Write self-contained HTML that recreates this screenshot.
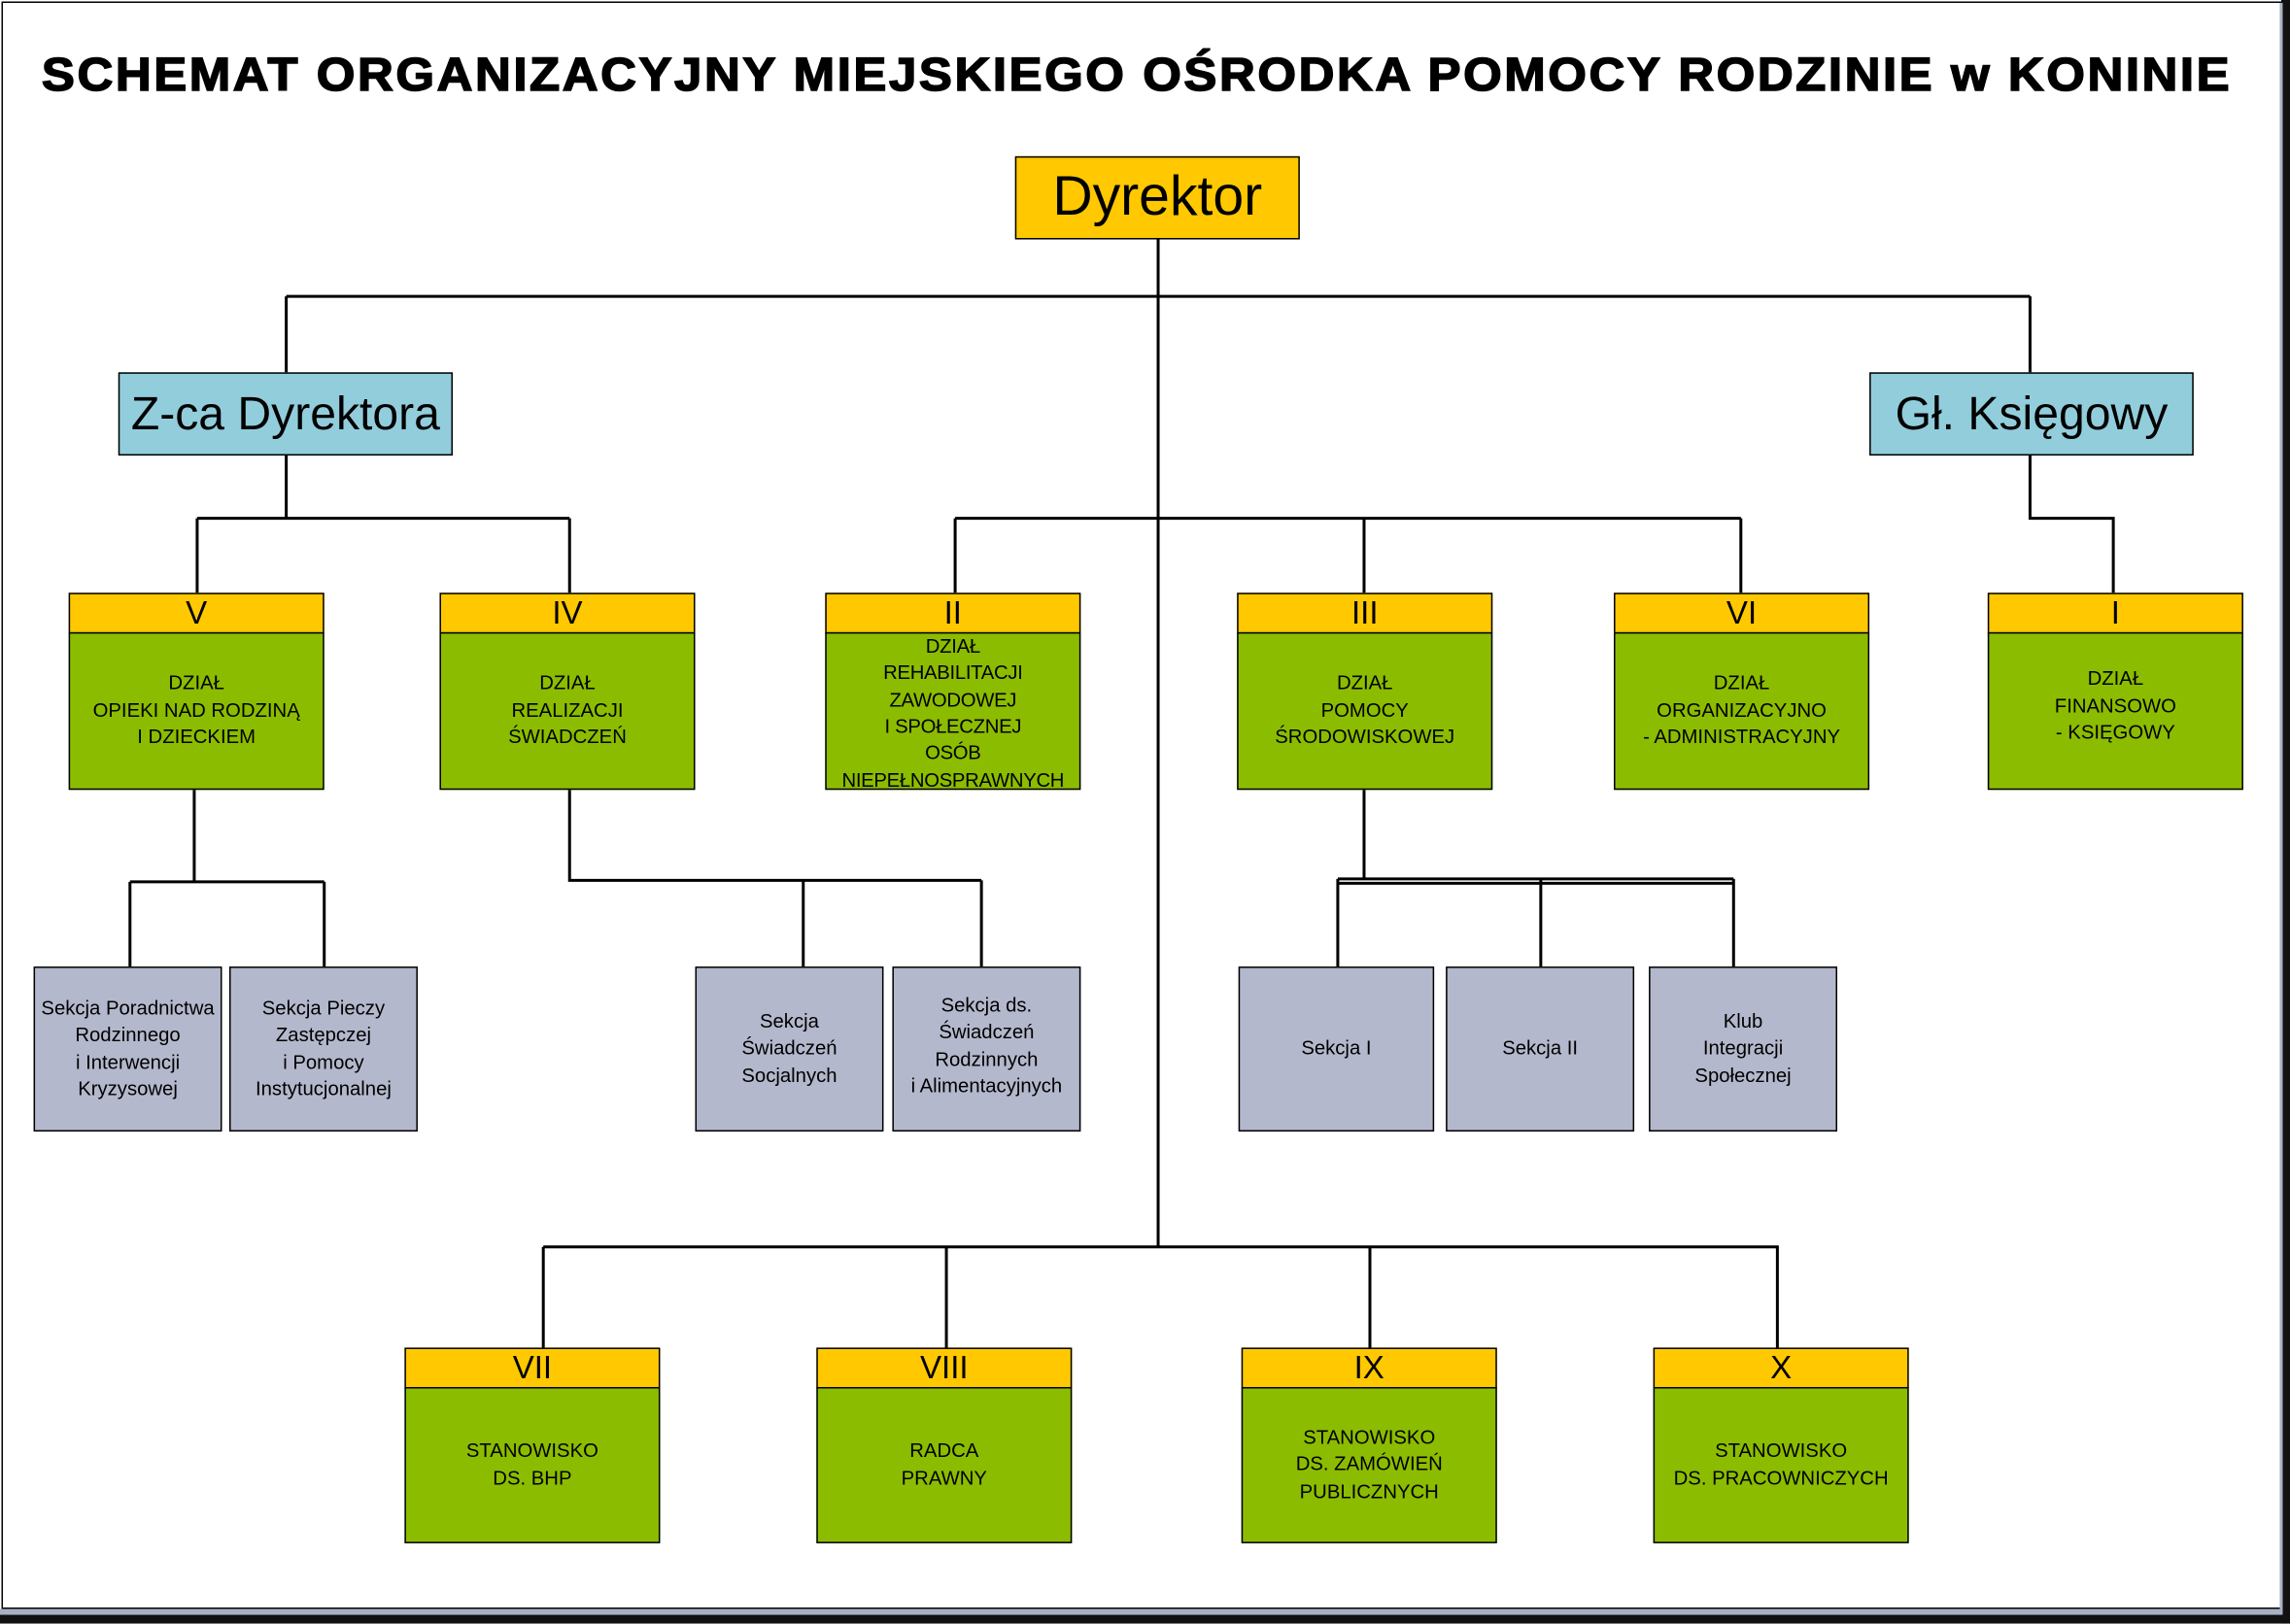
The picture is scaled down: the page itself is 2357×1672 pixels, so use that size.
<!DOCTYPE html>
<html><head><meta charset="utf-8"><style>
html,body{margin:0;padding:0;background:#fff;}
body{width:2357px;height:1671px;overflow:hidden;position:relative;}
#w{position:absolute;left:0;top:0;width:1568px;height:1112px;transform:scale(1.50319);transform-origin:0 0;font-family:"Liberation Sans",sans-serif;color:#000;}
.b{position:absolute;box-sizing:border-box;border:1.3px solid #000;display:flex;align-items:center;justify-content:center;text-align:center;}
.y{background:#ffc800;font-size:22px;}
.g{background:#8cbc00;font-size:13.5px;line-height:18.5px;}
.s{background:#b4b8cc;font-size:13.5px;line-height:18.5px;}
.c{background:#92cddc;font-size:32px;}
svg{position:absolute;left:0;top:0;}
</style></head><body><div id="w">
<div style="position:absolute;left:1px;top:1px;width:1561px;height:1101px;border:1px solid #000;box-sizing:border-box;"></div>
<div style="position:absolute;left:0;top:1102px;width:1568px;height:4px;background:#aab0c4;"></div>
<div style="position:absolute;left:0;top:1106px;width:1568px;height:6px;background:#111;"></div>
<div style="position:absolute;left:1562px;top:0;width:6px;height:1112px;background:#111;"></div>
<div style="position:absolute;left:1561px;top:2px;width:2px;height:1104px;background:#aab0c4;"></div>
<div style="position:absolute;left:0;top:33px;width:1556px;text-align:center;"><span style="display:inline-block;font-weight:bold;font-size:32px;letter-spacing:1.6px;-webkit-text-stroke:1px #000;transform:scaleX(1.06);white-space:nowrap;">SCHEMAT ORGANIZACYJNY MIEJSKIEGO OŚRODKA POMOCY RODZINIE w KONINIE</span></div>
<svg width="1568" height="1112" stroke="#000" stroke-width="2" fill="none">
<path d="M793 164V854M196 203H1390M196 203V255M1390 203V255"/>
<path d="M196 312V355M135 355H390M135 355V406M390 355V406"/>
<path d="M654 355H1192M654 355V406M934 355V406M1192 355V406"/>
<path d="M1390 312V355H1447V406"/>
<path d="M133 541V604M89 604H222M89 604V662M222 604V662"/>
<path d="M390 541V603H672M550 603V662M672 603V662"/>
<path d="M934 541V602M916 602H1187M916 605H1187M916 602V662M1055 602V662M1187 602V662"/>
<path d="M372 854H1218M372 854V923M648 854V923M938 854V923M1217 854V923"/>
</svg>
<div class="b y" style="left:695px;top:107px;width:195px;height:57px;font-size:38px;">Dyrektor</div>
<div class="b c" style="left:81px;top:255px;width:229px;height:57px;">Z-ca Dyrektora</div>
<div class="b c" style="left:1280px;top:255px;width:222px;height:57px;">Gł. Księgowy</div>

<div class="b y" style="left:47px;top:406px;width:175px;height:28px;">V</div>
<div class="b g" style="left:47px;top:433px;width:175px;height:108px;">DZIAŁ<br>OPIEKI NAD RODZINĄ<br>I DZIECKIEM</div>
<div class="b y" style="left:301px;top:406px;width:175px;height:28px;">IV</div>
<div class="b g" style="left:301px;top:433px;width:175px;height:108px;">DZIAŁ<br>REALIZACJI<br>ŚWIADCZEŃ</div>
<div class="b y" style="left:565px;top:406px;width:175px;height:28px;">II</div>
<div class="b g" style="left:565px;top:433px;width:175px;height:108px;line-height:18.3px;padding-top:4px;font-size:13.5px;letter-spacing:-0.2px;">DZIAŁ<br>REHABILITACJI<br>ZAWODOWEJ<br>I SPOŁECZNEJ<br>OSÓB<br>NIEPEŁNOSPRAWNYCH</div>
<div class="b y" style="left:847px;top:406px;width:175px;height:28px;">III</div>
<div class="b g" style="left:847px;top:433px;width:175px;height:108px;">DZIAŁ<br>POMOCY<br>ŚRODOWISKOWEJ</div>
<div class="b y" style="left:1105px;top:406px;width:175px;height:28px;">VI</div>
<div class="b g" style="left:1105px;top:433px;width:175px;height:108px;">DZIAŁ<br>ORGANIZACYJNO<br>- ADMINISTRACYJNY</div>
<div class="b y" style="left:1361px;top:406px;width:175px;height:28px;">I</div>
<div class="b g" style="left:1361px;top:433px;width:175px;height:108px;padding-bottom:6px;">DZIAŁ<br>FINANSOWO<br>- KSIĘGOWY</div>

<div class="b s" style="left:23px;top:662px;width:129px;height:113px;">Sekcja Poradnictwa<br>Rodzinnego<br>i Interwencji<br>Kryzysowej</div>
<div class="b s" style="left:157px;top:662px;width:129px;height:113px;">Sekcja Pieczy<br>Zastępczej<br>i Pomocy<br>Instytucjonalnej</div>
<div class="b s" style="left:476px;top:662px;width:129px;height:113px;">Sekcja<br>Świadczeń<br>Socjalnych</div>
<div class="b s" style="left:611px;top:662px;width:129px;height:113px;padding-bottom:4px;">Sekcja ds.<br>Świadczeń<br>Rodzinnych<br>i Alimentacyjnych</div>
<div class="b s" style="left:848px;top:662px;width:134px;height:113px;">Sekcja I</div>
<div class="b s" style="left:990px;top:662px;width:129px;height:113px;">Sekcja II</div>
<div class="b s" style="left:1129px;top:662px;width:129px;height:113px;">Klub<br>Integracji<br>Społecznej</div>

<div class="b y" style="left:277px;top:923px;width:175px;height:28px;">VII</div>
<div class="b g" style="left:277px;top:950px;width:175px;height:107px;">STANOWISKO<br>DS. BHP</div>
<div class="b y" style="left:559px;top:923px;width:175px;height:28px;">VIII</div>
<div class="b g" style="left:559px;top:950px;width:175px;height:107px;">RADCA<br>PRAWNY</div>
<div class="b y" style="left:850px;top:923px;width:175px;height:28px;">IX</div>
<div class="b g" style="left:850px;top:950px;width:175px;height:107px;">STANOWISKO<br>DS. ZAMÓWIEŃ<br>PUBLICZNYCH</div>
<div class="b y" style="left:1132px;top:923px;width:175px;height:28px;">X</div>
<div class="b g" style="left:1132px;top:950px;width:175px;height:107px;">STANOWISKO<br>DS. PRACOWNICZYCH</div>
</div></body></html>
